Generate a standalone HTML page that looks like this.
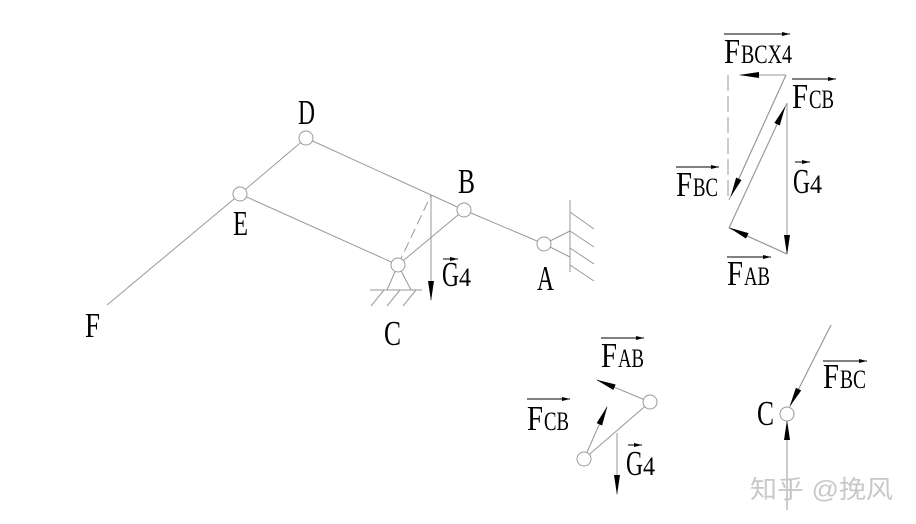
<!DOCTYPE html>
<html><head><meta charset="utf-8"><style>html,body{margin:0;padding:0;background:#fff}svg{display:block}</style></head>
<body>
<svg width="916" height="524" viewBox="0 0 916 524" xmlns="http://www.w3.org/2000/svg">
<defs>
<marker id="ah" markerWidth="20" markerHeight="8" refX="19" refY="4" orient="auto" markerUnits="userSpaceOnUse"><path d="M0,1 L20,4 L0,7 Z" fill="#000"/></marker>
<marker id="sa" markerWidth="8" markerHeight="4" refX="8" refY="2" orient="auto" markerUnits="userSpaceOnUse"><path d="M0,0 L8,2 L0,4 Z" fill="#000"/></marker>
</defs>
<g stroke="#999" stroke-width="1" fill="none">
<line x1="306" y1="138" x2="464" y2="210"/>
<line x1="306" y1="138" x2="240" y2="194"/>
<line x1="240" y1="194" x2="107" y2="305"/>
<line x1="240" y1="194" x2="398" y2="265"/>
<line x1="398" y1="265" x2="464" y2="210"/>
<line x1="464" y1="210" x2="544" y2="244"/>
<line x1="544" y1="244" x2="570" y2="231"/>
<line x1="544" y1="244" x2="570" y2="257"/>
<line x1="570" y1="200" x2="570" y2="272"/>
<line x1="570" y1="212" x2="594" y2="229"/>
<line x1="570" y1="231" x2="594" y2="247"/>
<line x1="570" y1="248" x2="594" y2="264"/>
<line x1="570" y1="265" x2="594" y2="281"/>
<line x1="398" y1="265" x2="387" y2="290"/>
<line x1="398" y1="265" x2="411" y2="290"/>
<line x1="370" y1="290" x2="422" y2="290"/>
<line x1="384" y1="290" x2="371" y2="306"/>
<line x1="400" y1="290" x2="387" y2="306"/>
<line x1="416" y1="290" x2="403" y2="306"/>
<line x1="398" y1="265" x2="431" y2="195" stroke-dasharray="10,5"/>
<line x1="728" y1="75" x2="728" y2="200" stroke-dasharray="16,5"/>
<line x1="786" y1="75" x2="729" y2="200"/>
<line x1="729" y1="228" x2="787" y2="103"/>
<line x1="787" y1="254" x2="729" y2="228"/>
<line x1="650" y1="402" x2="584" y2="459"/>
<line x1="787" y1="510" x2="787" y2="421"/>
<line x1="831" y1="325" x2="790" y2="406"/>
</g>
<g stroke="#999" stroke-width="1" fill="none" marker-end="url(#ah)">
<line x1="431" y1="195" x2="431" y2="300"/>
<line x1="786" y1="75" x2="740" y2="75"/>
<line x1="786" y1="75" x2="731" y2="196"/>
<line x1="729" y1="228" x2="785" y2="107"/>
<line x1="787" y1="103" x2="787" y2="254"/>
<line x1="787" y1="254" x2="730" y2="228"/>
<line x1="650" y1="402" x2="597" y2="380"/>
<line x1="584" y1="459" x2="607" y2="407"/>
<line x1="617" y1="433" x2="617" y2="494"/>
<line x1="831" y1="325" x2="790" y2="406"/>
<line x1="787" y1="460" x2="787" y2="421"/>
</g>
<g stroke="#999" stroke-width="1" fill="#fff">
<circle cx="306" cy="138" r="7"/><circle cx="240" cy="194" r="7"/>
<circle cx="464" cy="210" r="7"/><circle cx="544" cy="244" r="7"/>
<circle cx="398" cy="265" r="7"/>
<circle cx="650" cy="402" r="7"/><circle cx="584" cy="459" r="7"/>
<circle cx="787" cy="414" r="7"/>
</g>
<g stroke="#000" stroke-width="1" marker-end="url(#sa)">
<line x1="724" y1="34" x2="790" y2="34"/>
<line x1="792" y1="79" x2="836" y2="79"/>
<line x1="676" y1="167" x2="719" y2="167"/>
<line x1="795" y1="162" x2="810" y2="162"/>
<line x1="727" y1="257" x2="771" y2="257"/>
<line x1="443" y1="259" x2="458" y2="259"/>
<line x1="601" y1="338" x2="644" y2="338"/>
<line x1="527" y1="399" x2="570" y2="399"/>
<line x1="628" y1="445" x2="642" y2="445"/>
<line x1="823" y1="361" x2="867" y2="361"/>
</g>
<g font-family="Liberation Serif, serif" fill="#000" font-size="35">
<text x="298" y="124" textLength="17" lengthAdjust="spacingAndGlyphs">D</text>
<text x="233" y="235" textLength="15" lengthAdjust="spacingAndGlyphs">E</text>
<text x="85" y="337" textLength="15" lengthAdjust="spacingAndGlyphs">F</text>
<text x="384" y="345" textLength="17" lengthAdjust="spacingAndGlyphs">C</text>
<text x="458" y="193" textLength="17" lengthAdjust="spacingAndGlyphs">B</text>
<text x="537" y="290" textLength="17" lengthAdjust="spacingAndGlyphs">A</text>
<text x="757" y="425" textLength="17" lengthAdjust="spacingAndGlyphs">C</text>
<text x="442" y="286" textLength="17" lengthAdjust="spacingAndGlyphs">G</text><text x="459" y="286" font-size="26" textLength="12" lengthAdjust="spacingAndGlyphs">4</text>
<text x="793" y="193" textLength="17" lengthAdjust="spacingAndGlyphs">G</text><text x="810" y="193" font-size="26" textLength="12" lengthAdjust="spacingAndGlyphs">4</text>
<text x="626" y="475" textLength="17" lengthAdjust="spacingAndGlyphs">G</text><text x="643" y="475" font-size="26" textLength="12" lengthAdjust="spacingAndGlyphs">4</text>
<text x="724" y="63" textLength="16" lengthAdjust="spacingAndGlyphs">F</text><text x="741" y="63" font-size="26" textLength="51" lengthAdjust="spacingAndGlyphs">BCX4</text>
<text x="792" y="108" textLength="16" lengthAdjust="spacingAndGlyphs">F</text><text x="809" y="108" font-size="26" textLength="25" lengthAdjust="spacingAndGlyphs">CB</text>
<text x="676" y="196" textLength="16" lengthAdjust="spacingAndGlyphs">F</text><text x="693" y="196" font-size="26" textLength="25" lengthAdjust="spacingAndGlyphs">BC</text>
<text x="727" y="285" textLength="16" lengthAdjust="spacingAndGlyphs">F</text><text x="744" y="285" font-size="26" textLength="26" lengthAdjust="spacingAndGlyphs">AB</text>
<text x="601" y="367" textLength="16" lengthAdjust="spacingAndGlyphs">F</text><text x="618" y="367" font-size="26" textLength="26" lengthAdjust="spacingAndGlyphs">AB</text>
<text x="527" y="430" textLength="16" lengthAdjust="spacingAndGlyphs">F</text><text x="544" y="430" font-size="26" textLength="25" lengthAdjust="spacingAndGlyphs">CB</text>
<text x="823" y="388" textLength="16" lengthAdjust="spacingAndGlyphs">F</text><text x="840" y="388" font-size="26" textLength="26" lengthAdjust="spacingAndGlyphs">BC</text>
</g>
<text x="750" y="498" font-family="Liberation Sans, Noto Sans CJK SC, sans-serif" font-size="25" fill="#c8c8c8" textLength="143" lengthAdjust="spacingAndGlyphs">知乎 @挽风</text>
</svg>
</body></html>
